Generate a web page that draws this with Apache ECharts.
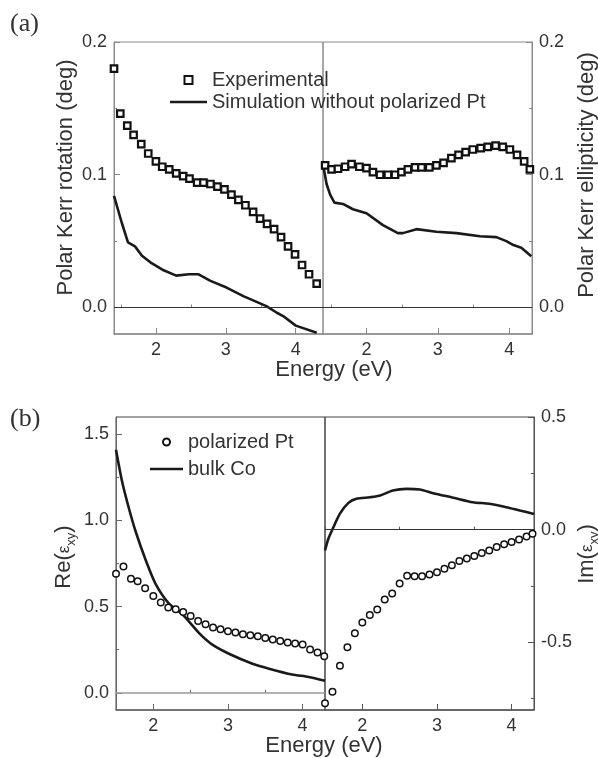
<!DOCTYPE html>
<html>
<head>
<meta charset="utf-8">
<script src="https://cdn.jsdelivr.net/npm/echarts@6/dist/echarts.min.js"></script>
<style>
html,body{margin:0;padding:0;background:#fff;}
#chart{width:598px;height:758px;}
</style>
</head>
<body>
<div id="chart"></div>
<script>
// ---------- Panel (a), left: Polar Kerr rotation ----------
const aRotExpE = [1.40,1.49,1.59,1.68,1.79,1.89,2.00,2.09,2.19,2.29,2.39,2.48,2.59,2.68,2.78,2.88,2.98,3.08,3.18,3.28,3.39,3.49,3.59,3.69,3.79,3.89,3.99,4.09,4.19,4.30];
const aRotExpV = [0.180,0.146,0.137,0.130,0.123,0.116,0.110,0.106,0.104,0.101,0.099,0.097,0.094,0.094,0.093,0.091,0.089,0.085,0.081,0.077,0.072,0.067,0.063,0.059,0.053,0.046,0.040,0.032,0.025,0.018];
const aRotSimE = [1.40,1.51,1.60,1.70,1.80,1.92,2.11,2.29,2.47,2.61,2.78,3.01,3.25,3.58,3.73,3.82,4.00,4.30];
const aRotSimV = [0.084,0.064,0.049,0.046,0.039,0.034,0.028,0.024,0.025,0.025,0.020,0.015,0.0085,0.001,-0.004,-0.0065,-0.0137,-0.019];
// ---------- Panel (a), right: Polar Kerr ellipticity ----------
const aEllExpE = [1.42,1.51,1.60,1.70,1.79,1.90,2.00,2.09,2.19,2.30,2.40,2.49,2.58,2.68,2.77,2.88,2.98,3.08,3.19,3.29,3.39,3.49,3.60,3.70,3.81,3.91,4.01,4.11,4.21,4.29];
const aEllExpV = [0.107,0.104,0.1045,0.106,0.108,0.106,0.105,0.102,0.100,0.100,0.100,0.102,0.104,0.1055,0.1055,0.1055,0.107,0.109,0.1125,0.115,0.117,0.119,0.120,0.121,0.122,0.121,0.119,0.115,0.110,0.104];
const aEllSimE = [1.40,1.44,1.49,1.55,1.67,1.81,2.00,2.23,2.44,2.51,2.70,2.98,3.26,3.59,3.82,3.96,4.06,4.17,4.31];
const aEllSimV = [0.105,0.093,0.085,0.079,0.078,0.074,0.071,0.062,0.056,0.056,0.059,0.057,0.056,0.0536,0.053,0.050,0.047,0.045,0.0386];
// ---------- Panel (b), left: Re(eps_xy) ----------
const bReE = [1.50,1.60,1.70,1.79,1.89,2.00,2.10,2.20,2.30,2.40,2.50,2.60,2.70,2.80,2.90,3.00,3.10,3.20,3.30,3.40,3.50,3.60,3.70,3.80,3.90,4.00,4.10,4.20,4.29];
const bRePtV = [0.690,0.732,0.661,0.647,0.607,0.561,0.523,0.494,0.484,0.468,0.445,0.416,0.397,0.378,0.368,0.357,0.349,0.339,0.333,0.328,0.318,0.309,0.301,0.291,0.286,0.280,0.251,0.234,0.212];
const bReCoE = [1.50,1.58,1.67,1.76,1.90,2.03,2.21,2.39,2.62,2.80,3.02,3.32,3.55,3.86,4.08,4.30];
const bReCoV = [1.41,1.229,1.075,0.940,0.767,0.632,0.517,0.455,0.343,0.276,0.225,0.170,0.140,0.106,0.092,0.070];
// ---------- Panel (b), right: Im(eps_xy) ----------
const bImE = [1.50,1.60,1.70,1.80,1.90,2.00,2.10,2.20,2.30,2.40,2.50,2.60,2.70,2.80,2.90,3.00,3.10,3.20,3.30,3.40,3.50,3.60,3.70,3.80,3.90,4.00,4.10,4.20,4.28];
const bImPtV = [-0.770,-0.719,-0.604,-0.522,-0.460,-0.412,-0.379,-0.354,-0.310,-0.283,-0.239,-0.204,-0.207,-0.207,-0.199,-0.189,-0.173,-0.158,-0.139,-0.128,-0.117,-0.103,-0.092,-0.077,-0.065,-0.055,-0.043,-0.030,-0.018];
const bImCoE = [1.50,1.545,1.61,1.70,1.81,1.92,2.10,2.24,2.41,2.59,2.77,2.95,3.22,3.48,3.70,3.93,4.11,4.30];
const bImCoV = [-0.092,-0.040,0.009,0.071,0.118,0.137,0.144,0.152,0.174,0.181,0.178,0.162,0.142,0.122,0.115,0.100,0.085,0.070];

// tick labels
const xMajor = [2,3,4];
const xMinor = [1.5,2.5,3.5];
const aYMajor = [0.0,0.1,0.2];
const aYMinor = [0.05,0.15];
const bReYMajor = [0.0,0.5,1.0,1.5];
const bReYMinor = [0.25,0.75,1.25];
const bImYMajor = [-0.5,0.0,0.5];
const bImYMinor = [-0.75,-0.25,0.25];

const FONT = '"Liberation Sans", Arial, sans-serif';
const TXT = '#333';
function pairs(xs, ys){ return xs.map((x,i)=>[x, ys[i]]); }

const gridsPos = [
  {left:114, top:42, width:209, height:292, border:'#8a8a8a'},
  {left:323, top:42, width:209, height:292, border:'#8a8a8a'},
  {left:116, top:417, width:209, height:293, border:'#444'},
  {left:325, top:417, width:209, height:293, border:'#444'}
];
const xRanges = [[1.4,4.39],[1.39,4.32],[1.5,4.3],[1.5,4.3]];
const yRanges = [[-0.02,0.2],[-0.02,0.2],[-0.1,1.6],[-0.8,0.5]];
const yMaj = [aYMajor,aYMajor,bReYMajor,bImYMajor];
const yMin = [aYMinor,aYMinor,bReYMinor,bImYMinor];
const yPos = ['left','right','left','right'];
const axisCol = ['#8a8a8a','#8a8a8a','#666','#555'];

const grid = gridsPos.map(g=>({left:g.left, top:g.top, width:g.width, height:g.height, show:true,
  borderColor:g.border, borderWidth:1, backgroundColor:'transparent', containLabel:false, outerBoundsMode:'none'}));

const xAxis = [], yAxis = [];
for (let g=0; g<4; g++){
  xAxis.push({type:'value', gridIndex:g, position:'bottom', min:xRanges[g][0], max:xRanges[g][1],
    axisLine:{show:true, onZero:false, lineStyle:{color:axisCol[g], width:1.5}},
    axisTick:{show:true, inside:true, length:6, customValues:xMajor, lineStyle:{color:axisCol[g], width:1}},
    axisLabel:{show:true, customValues:xMajor, margin:7, fontSize:18, color:TXT, fontFamily:FONT},
    splitLine:{show:false}});
  const fmt = v => v.toFixed(1);
  yAxis.push({type:'value', gridIndex:g, position:yPos[g], min:yRanges[g][0], max:yRanges[g][1],
    axisLine:{show:true, onZero:false, lineStyle:{color:axisCol[g], width:1}},
    axisTick:{show:true, inside:true, length:6, customValues:yMaj[g], lineStyle:{color:axisCol[g], width:1}},
    axisLabel:{show:true, customValues:yMaj[g], margin:7, fontSize:18, color:TXT, fontFamily:FONT, formatter:fmt},
    splitLine:{show:false}});
}
for (let g=0; g<4; g++){
  xAxis.push({type:'value', gridIndex:g, position:'bottom', min:xRanges[g][0], max:xRanges[g][1],
    axisLine:{show:false}, axisLabel:{show:false}, splitLine:{show:false},
    axisTick:{show:true, inside:true, length:3, customValues:xMinor, lineStyle:{color:axisCol[g], width:1}}});
  yAxis.push({type:'value', gridIndex:g, position:yPos[g], min:yRanges[g][0], max:yRanges[g][1],
    axisLine:{show:false}, axisLabel:{show:false}, splitLine:{show:false},
    axisTick:{show:true, inside:true, length:3, customValues:yMin[g], lineStyle:{color:axisCol[g], width:1}}});
}
// axis titles (y)
yAxis[0].name = 'Polar Kerr rotation (deg)';
yAxis[0].nameLocation = 'middle'; yAxis[0].nameGap = 37;
yAxis[0].nameTextStyle = {fontSize:22, fontFamily:FONT, color:TXT, padding:[0,0,0,21]};
yAxis[1].name = 'Polar Kerr ellipticity (deg)';
yAxis[1].nameLocation = 'middle'; yAxis[1].nameGap = 44;
yAxis[1].nameTextStyle = {fontSize:22, fontFamily:FONT, color:TXT, padding:[0,0,0,26]};
const richEps = {
  t:{fontSize:22, fontFamily:FONT, color:TXT, lineHeight:28},
  e:{fontSize:17, fontFamily:FONT, color:TXT, lineHeight:28},
  s:{fontSize:13, fontFamily:FONT, color:TXT, lineHeight:28, verticalAlign:'bottom', padding:[10,0,0,0]}
};
yAxis[2].name = '{t|Re(}{e|ε}{s|xy}{t|)}';
yAxis[2].nameLocation = 'middle'; yAxis[2].nameGap = 38;
yAxis[2].nameTextStyle = {fontSize:22, fontFamily:FONT, color:TXT, padding:[0,0,0,13], rich:richEps};
yAxis[3].name = '{t|Im(}{e|ε}{s|xy}{t|)}';
yAxis[3].nameLocation = 'middle'; yAxis[3].nameGap = 37;
yAxis[3].nameTextStyle = {fontSize:22, fontFamily:FONT, color:TXT, padding:[0,0,0,19], rich:richEps};

function zeroLine(color, width){
  return {silent:true, symbol:'none', label:{show:false}, animation:false,
    lineStyle:{color:color, width:width, type:'solid'}, emphasis:{disabled:true},
    data:[{yAxis:0}]};
}
const sqStyle = {color:'#fff', borderColor:'#111', borderWidth:2.2, opacity:1};
const ciStyle = {color:'#fff', borderColor:'#111', borderWidth:1.5, opacity:1};
const lnStyle = {color:'#1a1a1a', width:2.6};

const series = [
  {name:'Experimental', type:'scatter', xAxisIndex:0, yAxisIndex:0, symbol:'rect', symbolSize:6.5,
   itemStyle:sqStyle, data:pairs(aRotExpE,aRotExpV), z:3},
  {name:'Simulation without polarized Pt', type:'line', xAxisIndex:0, yAxisIndex:0, symbol:'none', showSymbol:false,
   lineStyle:lnStyle, itemStyle:{color:'#1a1a1a'}, data:pairs(aRotSimE,aRotSimV), markLine:zeroLine('#333',1)},
  {name:'Experimental', type:'scatter', xAxisIndex:1, yAxisIndex:1, symbol:'rect', symbolSize:6.5,
   itemStyle:sqStyle, data:pairs(aEllExpE,aEllExpV), z:3},
  {name:'Simulation without polarized Pt', type:'line', xAxisIndex:1, yAxisIndex:1, symbol:'none', showSymbol:false,
   lineStyle:lnStyle, itemStyle:{color:'#1a1a1a'}, data:pairs(aEllSimE,aEllSimV), markLine:zeroLine('#333',1)},
  {name:'polarized Pt', type:'scatter', xAxisIndex:2, yAxisIndex:2, symbol:'circle', symbolSize:6.5,
   itemStyle:ciStyle, data:pairs(bReE,bRePtV), z:3},
  {name:'bulk Co', type:'line', xAxisIndex:2, yAxisIndex:2, symbol:'none', showSymbol:false, smooth:0.25,
   lineStyle:lnStyle, itemStyle:{color:'#1a1a1a'}, data:pairs(bReCoE,bReCoV), markLine:zeroLine('#999',1.5)},
  {name:'polarized Pt', type:'scatter', xAxisIndex:3, yAxisIndex:3, symbol:'circle', symbolSize:6.5,
   itemStyle:ciStyle, data:pairs(bImE,bImPtV), z:3},
  {name:'bulk Co', type:'line', xAxisIndex:3, yAxisIndex:3, symbol:'none', showSymbol:false, smooth:0.25,
   lineStyle:lnStyle, itemStyle:{color:'#1a1a1a'}, data:pairs(bImCoE,bImCoV), markLine:zeroLine('#333',1)}
];

const option = {
  animation:false,
  backgroundColor:'#fff',
  textStyle:{fontFamily:FONT},
  grid:grid, xAxis:xAxis, yAxis:yAxis, series:series,
  legend:[
    {data:[
       {name:'Experimental', icon:'path://M0,0h10v10h-10z'},
       {name:'Simulation without polarized Pt', icon:'path://M0,0h100v7h-100z', itemStyle:{color:'#1a1a1a', borderWidth:0}}
     ], left:170, top:70, orient:'vertical', symbolKeepAspect:true,
     itemWidth:37, itemHeight:8, itemGap:2, selectedMode:false, padding:0,
     textStyle:{fontSize:20, fontFamily:FONT, color:TXT}},
    {data:[
       {name:'polarized Pt', icon:'circle'},
       {name:'bulk Co', icon:'path://M0,0h100v8h-100z', itemStyle:{color:'#1a1a1a', borderWidth:0}}
     ], left:150, top:432, orient:'vertical', symbolKeepAspect:true,
     itemWidth:33, itemHeight:7, itemGap:7, selectedMode:false, padding:0,
     textStyle:{fontSize:20, fontFamily:FONT, color:TXT}}
  ],
  graphic:[
    {type:'text', x:10, y:24, style:{text:'(a)', font:'26px "Liberation Serif", "Times New Roman", serif', fill:TXT, verticalAlign:'middle'}},
    {type:'text', x:10, y:419, style:{text:'(b)', font:'26px "Liberation Serif", "Times New Roman", serif', fill:TXT, verticalAlign:'middle'}},
    {type:'text', x:334, y:370, style:{text:'Energy (eV)', font:'22px "Liberation Sans", Arial, sans-serif', fill:TXT, align:'center', verticalAlign:'middle'}},
    {type:'text', x:324, y:746, style:{text:'Energy (eV)', font:'22px "Liberation Sans", Arial, sans-serif', fill:TXT, align:'center', verticalAlign:'middle'}}
  ]
};
const chart = echarts.init(document.getElementById('chart'), null, {renderer:'canvas'});
chart.setOption(option);
</script>
</body>
</html>
